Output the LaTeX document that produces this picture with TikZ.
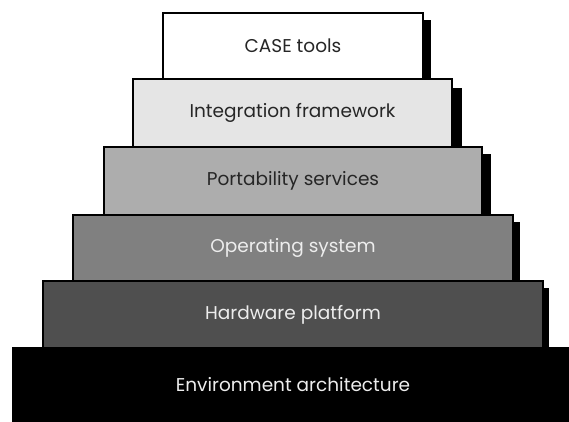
\documentclass[tikz,border=0pt]{standalone}
\usepackage{fontspec}
\setsansfont{Poppins}
\usepackage{tikz}
\usetikzlibrary{calc}
\usepackage{xcolor}

\definecolor{integgray}{gray}{0.90}
\definecolor{portgray}{gray}{0.68}
\definecolor{osgray}{gray}{0.50}
\definecolor{hwgray}{gray}{0.31}
\definecolor{darktext}{gray}{0.15}
\definecolor{lighttext}{gray}{0.93}

\begin{document}
\begin{tikzpicture}[x=1pt, y=-1pt, font=\sffamily\fontsize{18.5}{20}\selectfont,
    layer/.style={draw=black, line width=1.2pt, inner sep=0pt, outer sep=0pt}]

    % Fix the page to the reference size
    \useasboundingbox (0,0) rectangle (569,421);

    % Layers, from the top down
    \node[layer, fill=white, text=darktext, minimum width=260pt, minimum height=66pt] (case) at (293,46) {CASE tools};
    \node[layer, fill=integgray, text=darktext, minimum width=319pt, minimum height=68pt] (integ) at (292.5,113) {Integration framework};
    \node[layer, fill=portgray, text=darktext, minimum width=378pt, minimum height=68pt] (port) at (293,181) {Portability services};
    \node[layer, fill=osgray, text=lighttext, minimum width=440pt, minimum height=66pt] (os) at (293,248) {Operating system};
    \node[layer, fill=hwgray, text=lighttext, minimum width=500pt, minimum height=67pt] (hw) at (293,314.5) {Hardware platform};
    \node[layer, fill=black, text=lighttext, minimum width=560pt, minimum height=73pt] (env) at (293,384.5) {Environment architecture};

    % Shadows on the right side of each step
    \fill[black] ($(case.north east)+(0,7)$) rectangle ($(case.south east)+(8,0)$);
    \fill[black] ($(integ.north east)+(0,9)$) rectangle ($(integ.south east)+(10,0)$);
    \fill[black] ($(port.north east)+(0,7)$) rectangle ($(port.south east)+(9,0)$);
    \fill[black] ($(os.north east)+(0,7)$) rectangle ($(os.south east)+(7,0)$);
    \fill[black] ($(hw.north east)+(0,7)$) rectangle ($(hw.south east)+(6,0)$);
\end{tikzpicture}
\end{document}
